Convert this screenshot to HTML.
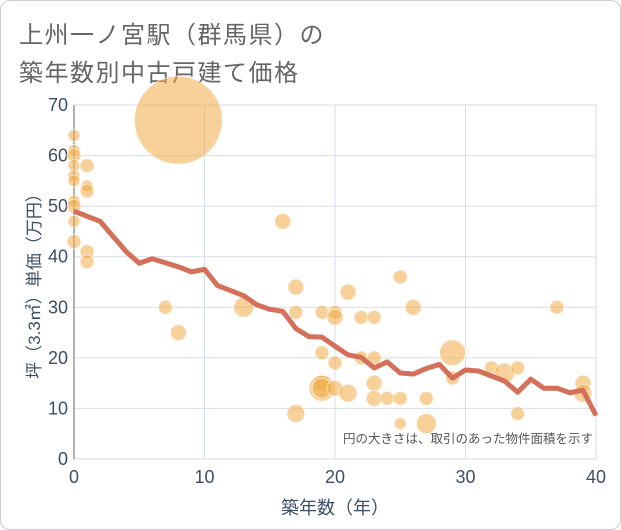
<!DOCTYPE html>
<html><head><meta charset="utf-8"><style>
body{margin:0;background:#fff;font-family:"Liberation Sans","Noto Sans CJK JP",sans-serif;}
#wrap{position:relative;width:619px;height:528px;border:1px solid #ccc;border-radius:10px;overflow:hidden;}
.title{position:absolute;left:18px;color:#666;font-size:24px;letter-spacing:1.5px;}
</style></head><body>
<div id="wrap">
<div class="title" style="top:14px">上州一ノ宮駅（群馬県）の</div>
<div class="title" style="top:52px">築年数別中古戸建て価格</div>
<svg id="chart" width="621" height="530" style="position:absolute;left:-1px;top:-1px"></svg>
</div>
<script>
const lineAges=[0,1,2,3,4,5,6,7,8,9,10,11,12,13,14,15,16,17,18,19,20,21,22,23,24,25,26,27,28,29,30,31,32,33,34,35,36,37,38,39,40];
const lineValues=[49,48,47,44,41,38.7,39.6,38.8,38,37,37.5,34.3,33.3,32.3,30.5,29.6,29.2,25.8,24.2,24.1,22.3,20.6,20.1,18,19.2,17,16.8,17.9,18.7,16,17.6,17.4,16.4,15.4,13.2,15.8,14,14,13.1,13.6,8.6];
const dotAges=[0,0,0,0,0,0,0,0,0,0,1,1,1,1,1,7,8,8,13,16,17,17,17,19,19,19,19,19,20,20,20,20,21,21,22,22,23,23,23,23,24,25,25,25,26,27,27,29,29,32,33,34,34,37,39,39];
const dotValues=[64,61,60,58,56,55,51,50,47,43,58,54,53,41,39,30,25,67,30,47,34,29,9,29,21,15,14,14,29,28,19,14,33,13,28,20,28,20,15,12,12,36,12,7,30,12,7,21,16,18,17,18,9,30,15,13];
const dotSizes=[6,6,7,6,6,6,6,7,6,7,7,6,7,7,7,7,8,44,10,8,8,7,9,7,7,8,13,10,7,8,7,8,8,9,7,7,7,7,8,8,7,7,7,6,8,7,10,13,7,7,10,7,7,7,8,9];
const xTicks=[0,10,20,30,40];
const yTicks=[0,10,20,30,40,50,60,70];
const X0=74,X1=596,Y0=459,Y1=105;
const xs=v=>X0+(X1-X0)*v/40, ys=v=>Y0-(Y0-Y1)*v/70;
const svg=document.getElementById('chart');const NS='http://www.w3.org/2000/svg';
function mk(t,a){const e=document.createElementNS(NS,t);for(const k in a)e.setAttribute(k,a[k]);svg.appendChild(e);return e;}
for(const t of yTicks){const l=mk('line',{x1:X0,x2:X1,y1:ys(t),y2:ys(t),stroke:'#d5dee9','stroke-width':1});


const tx=mk('text',{x:X0-6,y:ys(t)+6,'text-anchor':'end','font-size':18,fill:'#3d4f66'});tx.textContent=t;

}
for(const t of xTicks){const l=mk('line',{x1:xs(t),x2:xs(t),y1:Y1,y2:Y0,stroke:'#d5dee9','stroke-width':1});


const tx=mk('text',{x:xs(t),y:Y0+24,'text-anchor':'middle','font-size':18,fill:'#3d4f66'});tx.textContent=t;

}
const ax=mk('line',{x1:X0,x2:X0,y1:Y1,y2:Y0,stroke:'#999','stroke-width':1.5});


dotAges.forEach((a,i)=>{const c=mk('circle',{cx:xs(a),cy:ys(dotValues[i]),r:dotSizes[i],fill:'rgba(240,172,70,0.55)',stroke:'rgba(255,255,255,0.6)','stroke-width':1});

});
const p=mk('polyline',{points:lineAges.map((a,i)=>xs(a)+','+ys(lineValues[i])).join(' '),fill:'none',stroke:'#d4705a','stroke-width':5,'stroke-linejoin':'round'});


const note=mk('text',{x:593,y:443,'text-anchor':'end','font-size':12.5,fill:'#555'});note.textContent='円の大きさは、取引のあった物件面積を示す';


const xt=mk('text',{x:X0+(X1-X0)/2,y:514,'text-anchor':'middle','font-size':18,fill:'#3d4f66'});xt.textContent='築年数（年）';


const yt=mk('text',{x:0,y:0,'text-anchor':'middle','font-size':17,fill:'#3d4f66',transform:'translate(40,'+((Y0+Y1)/2)+') rotate(-90)'});yt.textContent='坪（3.3㎡）単価（万円）';


</script>
</body></html>
